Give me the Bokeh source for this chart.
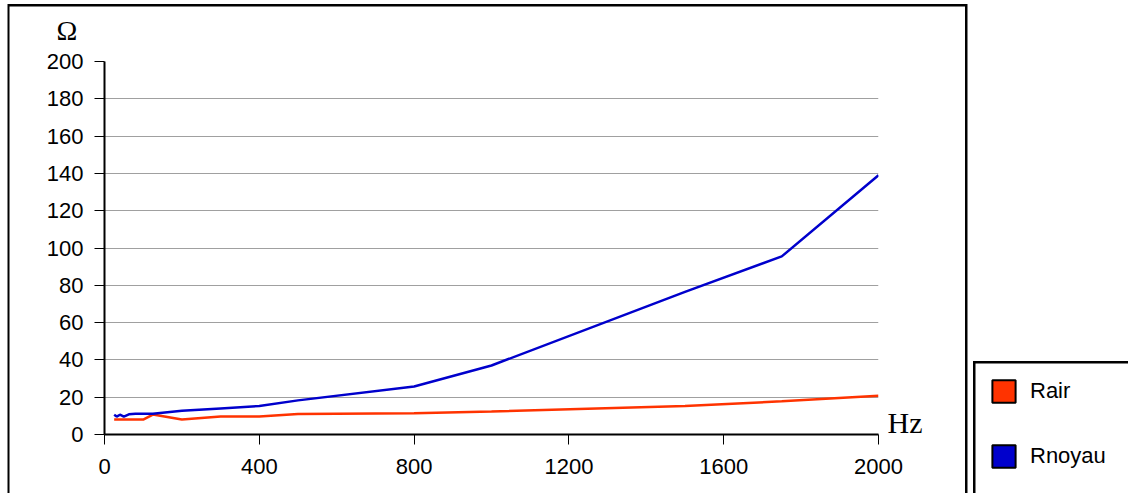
from bokeh.plotting import figure
from bokeh.layouts import row
from bokeh.models import (Range1d, FixedTicker, Title, Legend, LegendItem, LinearAxis,
                          CustomJSTickFormatter)
from bokeh.embed import file_html
from bokeh.resources import INLINE

# ---- data ----
freq = [25, 31.5, 40, 50, 63, 80, 100, 125, 200, 300, 400, 500, 800, 1000, 1500, 1750, 2000]
r_air = [8.0, 8.0, 8.0, 8.0, 8.0, 8.0, 8.0, 10.7, 8.0, 9.6, 9.6, 11.0, 11.4, 12.3, 15.3, 17.8, 20.8]
r_noyau = [10.6, 9.6, 10.6, 9.6, 10.8, 11.1, 11.1, 11.1, 12.7, 14.0, 15.3, 18.3, 25.7, 37.0, 76.5, 95.5, 139.0]
x_ticks = [0, 400, 800, 1200, 1600, 2000]
y_ticks = list(range(0, 201, 20))
series_names = ["Rair", "Rnoyau"]
y_unit = "Ω"
x_unit = "Hz"
x_unit_pos = 6.6

RED = "#FF3300"
BLUE = "#0000CC"

# ---------------- main chart ----------------
box_shadow = ", ".join([
    "inset 7.5px 0 0 0 white", "inset 0 4px 0 0 white", "inset -2.5px 0 0 0 white",
    "inset 9.5px 0 0 0 black", "inset 0 6.5px 0 0 black", "inset -5px 0 0 0 black",
])

p = figure(width=970, height=493, x_range=Range1d(0, 2000), y_range=Range1d(0, 200),
           output_backend="svg", toolbar_location=None,
           min_border_left=104, min_border_right=92, min_border_top=61, min_border_bottom=59,
           styles={"background-color": "white", "box-shadow": box_shadow})
p.frame_align = False
p.outline_line_color = None
p.background_fill_alpha = 0
p.border_fill_alpha = 0

p.xgrid.grid_line_color = None
p.ygrid.grid_line_color = "#A0A0A0"
p.ygrid.grid_line_width = 1

p.xaxis.ticker = FixedTicker(ticks=x_ticks)
p.yaxis.ticker = FixedTicker(ticks=y_ticks)
for ax in (p.xaxis, p.yaxis):
    ax.axis_line_color = "black"
    ax.axis_line_width = 2
    ax.major_tick_line_color = "black"
    ax.major_tick_line_width = 1
    ax.major_tick_out = 10
    ax.major_tick_in = 0
    ax.minor_tick_line_color = None
    ax.major_label_text_font = "Liberation Sans"
    ax.major_label_text_font_size = "22px"
    ax.major_label_text_color = "black"
p.yaxis.major_label_standoff = 11
p.xaxis.major_label_standoff = 14

p.line(freq, r_air, line_color=RED, line_width=2.5)
p.line(freq, r_noyau, line_color=BLUE, line_width=2.5)

# unit of the y axis, above the axis
p.add_layout(Title(text=y_unit, align="left", offset=-48, vertical_align="top", standoff=28,
                   text_font="Liberation Serif", text_font_size="28px",
                   text_font_style="normal", text_color="black"), "above")

# unit of the x axis, at the right end of the axis
hz_axis = LinearAxis(ticker=FixedTicker(ticks=[x_unit_pos]),
                     formatter=CustomJSTickFormatter(args=dict(u=x_unit), code="return u"),
                     axis_line_color=None, major_tick_line_color=None, minor_tick_line_color=None,
                     major_tick_out=0, major_tick_in=0, major_label_standoff=9,
                     major_label_text_font="Liberation Serif", major_label_text_font_size="30px",
                     major_label_text_color="black")
p.add_layout(hz_axis, "right")

# ---------------- legend panel ----------------
legend_shadow = ", ".join([
    "inset 3px 0 0 0 white", "inset 0 361px 0 0 white",
    "inset 5.5px 0 0 0 black", "inset 0 363.5px 0 0 black",
])
pl = figure(width=158, height=493, x_range=Range1d(0, 1), y_range=Range1d(0, 1),
            output_backend="svg", toolbar_location=None,
            x_axis_location=None, y_axis_location=None,
            min_border_left=0, min_border_right=0, min_border_top=0, min_border_bottom=0,
            styles={"background-color": "white", "box-shadow": legend_shadow})
pl.frame_align = False
pl.grid.visible = False
pl.outline_line_color = None
pl.background_fill_alpha = 0
pl.border_fill_alpha = 0

# swatch proxies (kept outside the visible range, only their legend glyphs are seen)
proxy_lo = [-3]
proxy_hi = [-2]
q_air = pl.quad(left=proxy_lo, right=proxy_hi, top=proxy_hi, bottom=proxy_lo,
                fill_color=RED, line_color="black", line_width=2)
q_noy = pl.quad(left=proxy_lo, right=proxy_hi, top=proxy_hi, bottom=proxy_lo,
                fill_color=BLUE, line_color="black", line_width=2)
legend = Legend(items=[LegendItem(label=series_names[0], renderers=[q_air]),
                       LegendItem(label=series_names[1], renderers=[q_noy])],
                location=(19, 23), orientation="vertical",
                border_line_color=None, background_fill_alpha=0,
                padding=15, margin=0, spacing=37,
                glyph_width=29, glyph_height=28, label_standoff=12,
                label_text_font="Liberation Sans", label_text_font_size="22px",
                label_text_color="black")
pl.add_layout(legend, "center")

layout = row(p, pl, spacing=0)
open("out.html", "w").write(file_html(layout, INLINE))
